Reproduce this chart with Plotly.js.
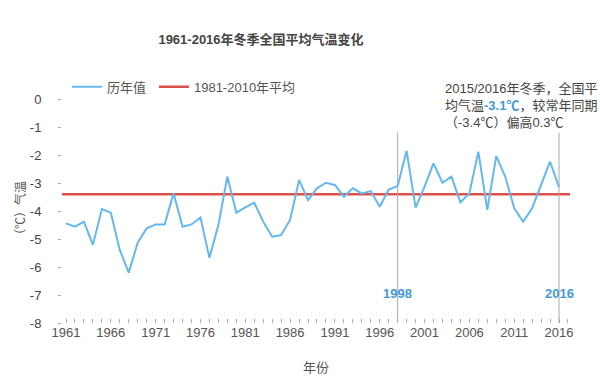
<!DOCTYPE html>
<html>
<head>
<meta charset="utf-8">
<script src="https://cdn.plot.ly/plotly-3.0.1.min.js"></script>
<style>html,body{margin:0;padding:0;background:#fff;}#chart{width:600px;height:387px;}</style>
</head>
<body>
<div id="chart"></div>
<script>
const years = [1961,1962,1963,1964,1965,1966,1967,1968,1969,1970,1971,1972,1973,1974,1975,1976,1977,1978,1979,1980,1981,1982,1983,1984,1985,1986,1987,1988,1989,1990,1991,1992,1993,1994,1995,1996,1997,1998,1999,2000,2001,2002,2003,2004,2005,2006,2007,2008,2009,2010,2011,2012,2013,2014,2015,2016];
const temps = [-4.44,-4.56,-4.38,-5.21,-3.93,-4.06,-5.39,-6.20,-5.13,-4.62,-4.48,-4.48,-3.37,-4.56,-4.48,-4.23,-5.67,-4.50,-2.77,-4.06,-3.87,-3.70,-4.38,-4.92,-4.86,-4.32,-2.89,-3.61,-3.19,-2.99,-3.07,-3.49,-3.19,-3.37,-3.29,-3.85,-3.23,-3.11,-1.85,-3.88,-3.13,-2.30,-2.99,-2.77,-3.69,-3.37,-1.88,-3.96,-2.04,-2.77,-3.90,-4.38,-3.90,-3.07,-2.24,-3.15];
const avgValue = -3.4;
const markYears = [1998, 2016];
const yTickVals = [0,-1,-2,-3,-4,-5,-6,-7,-8];
const yTickText = ["0","-1","-2","-3","-4","-5","-6","-7","-8"];
const seriesNames = ["历年值", "1981-2010年平均"];

const FONT = "Liberation Sans, Arial, Noto Sans CJK SC, sans-serif";
const BLUE = "#63b8f0";
const RED = "#e0504a";
const LABEL_BLUE = "#3f9ad8";

const traces = [
  {x: years, y: temps, type: "scatter", mode: "lines", name: seriesNames[0],
   line: {color: BLUE, width: 2}, hoverinfo: "x+y", legend: "legend"},
  {x: [null], y: [null], type: "scatter", mode: "lines", name: seriesNames[1],
   line: {color: RED, width: 2.5}, legend: "legend2"}
];

const shapes = [
  {type: "line", xref: "paper", x0: 0, x1: 1, yref: "y", y0: avgValue, y1: avgValue,
   line: {color: RED, width: 2.5}, layer: "below"}
];
markYears.forEach(function(yr){
  shapes.push({type: "line", xref: "x", x0: yr, x1: yr, yref: "y", y0: -8, y1: -1.2,
    line: {color: "#a8a8a8", width: 1}, layer: "below"});
});

const annotations = markYears.map(function(yr){
  return {x: yr, y: -6.95, xref: "x", yref: "y", text: "<b>" + yr + "</b>", showarrow: false,
    font: {family: FONT, size: 13, color: LABEL_BLUE}, xanchor: "center", yanchor: "middle"};
});
annotations.push({
  xref: "paper", yref: "paper", x: 0.75, y: 1.09, xanchor: "left", yanchor: "top", align: "left",
  showarrow: false,
  text: "2015/2016年冬季，全国平<br>均气温<span style=\"color:" + LABEL_BLUE + "\"><b>-3.1℃</b></span>，较常年同期<br>（-3.4℃）偏高0.3℃",
  font: {family: FONT, size: 13, color: "#444"}
});

const legendStyle = {orientation: "h", xanchor: "left", y: 1.055, yanchor: "middle",
  font: {family: FONT, size: 13, color: "#555"}, bgcolor: "rgba(0,0,0,0)"};

const layout = {
  width: 600, height: 387,
  margin: {l: 62, r: 30, t: 99, b: 64},
  paper_bgcolor: "#fff", plot_bgcolor: "#fff",
  font: {family: FONT, size: 13, color: "#555"},
  title: {text: "<b>1961-2016年冬季全国平均气温变化</b>", x: 0.435, xref: "container", xanchor: "center",
          y: 0.899, yref: "container", yanchor: "middle",
          font: {family: FONT, size: 13, color: "#444"}},
  showlegend: true,
  legend: Object.assign({}, legendStyle, {x: 0.0098}),
  legend2: Object.assign({}, legendStyle, {x: 0.181}),
  xaxis: {range: [1960.554, 2017.226], tick0: 1961, dtick: 5, showgrid: false, zeroline: false,
          showline: false, ticks: "inside", ticklen: 4, tickcolor: "#aaa",
          minor: {dtick: 1, tick0: 1961, ticks: "inside", ticklen: 4, tickcolor: "#aaa", showgrid: false},
          tickfont: {family: FONT, size: 13, color: "#555"},
          title: {text: "年份", font: {family: FONT, size: 13, color: "#555"}, standoff: 23}},
  yaxis: {range: [-8, 0], tickvals: yTickVals, ticktext: yTickText, showgrid: false, zeroline: false,
          showline: false, ticks: "outside", ticklen: 3, tickcolor: "#aaa", ticklabelstandoff: 14,
          tickfont: {family: FONT, size: 13, color: "#444"},
          title: {text: "（℃）气温", font: {family: FONT, size: 12, color: "#555"}, standoff: 1}},
  shapes: shapes,
  annotations: annotations
};

Plotly.newPlot("chart", traces, layout, {displayModeBar: false, staticPlot: true});
</script>
</body>
</html>
